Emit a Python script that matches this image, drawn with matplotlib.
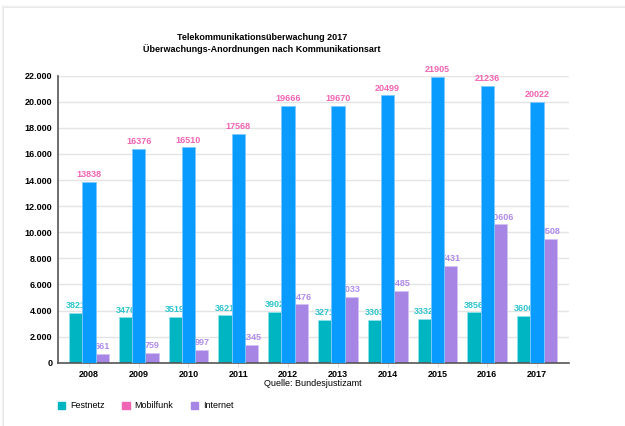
import matplotlib.pyplot as plt
from matplotlib.patches import Rectangle, Patch
import numpy as np

plt.rcParams['font.family'] = ['Liberation Sans', 'DejaVu Sans']

# data
jahre = ['2008', '2009', '2010', '2011', '2012', '2013', '2014', '2015', '2016', '2017']
festnetz = [3821, 3470, 3519, 3621, 3902, 3271, 3303, 3332, 3856, 3606]
mobilfunk = [13838, 16376, 16510, 17568, 19666, 19670, 20499, 21905, 21236, 20022]
internet = [661, 759, 997, 1345, 4476, 5033, 5485, 7431, 10606, 9508]

C_FEST = '#00B5C2'
C_MOBIL = '#0A9BFF'
C_NET = '#A785E4'
C_PINK = '#F065B4'
L_FEST = '#2EC4CE'
L_NET = '#B08BEA'

fig = plt.figure(figsize=(6.25, 4.26), dpi=100)
fig.patch.set_facecolor('white')

# card with a soft shadow on top/left
for i, a in enumerate([0.05, 0.04, 0.03, 0.02]):
    fig.patches.append(Rectangle(((4 - i) / 625, 0), 1, (418 + i) / 426,
                                 transform=fig.transFigure, facecolor='#000000',
                                 alpha=a, edgecolor='none', zorder=-3))
fig.patches.append(Rectangle((4 / 625, 0), 1, 418 / 426, transform=fig.transFigure,
                             facecolor='white', edgecolor='none', zorder=-2))

ax = fig.add_axes([58 / 625, 63.3 / 426, 511 / 625, 287 / 426])
ax.set_facecolor('none')
ax.set_zorder(2)

x = np.arange(len(jahre))
w = 0.267

b1 = ax.bar(x - w, festnetz, w, color=C_FEST, edgecolor='#8fe3ea', linewidth=0.6, zorder=2)
b3 = ax.bar(x + w, internet, w, color=C_NET, edgecolor='#d3c2f3', linewidth=0.6, zorder=2)
b2 = ax.bar(x, mobilfunk, w, color=C_MOBIL, edgecolor='#7cc8ff', linewidth=0.6, zorder=4)

def labels(bars, vals, col, z):
    for r, v in zip(bars, vals):
        ax.annotate(str(v), (r.get_x() + r.get_width() / 2, v), xytext=(0, 2),
                    textcoords='offset points', ha='center', va='bottom',
                    fontsize=6.5, fontweight='bold', color=col, zorder=z)

labels(b1, festnetz, L_FEST, 3)
labels(b3, internet, L_NET, 3)
labels(b2, mobilfunk, C_PINK, 5)

ax.set_xlim(-0.62, 9.64)
ax.set_ylim(0, 22000)
yt = np.arange(0, 22001, 2000)
ax.set_yticks(yt)
ax.set_yticklabels([f'{v:,.0f}'.replace(',', '.') for v in yt], fontsize=6.5, fontweight='bold')
ax.set_xticks(x)
ax.set_xticklabels(jahre, fontsize=6.5, fontweight='bold')
ax.tick_params(axis='y', length=0, pad=4)
ax.tick_params(axis='x', length=3, color='#dddddd', pad=2)
ax.grid(axis='y', color='#e4e4e4', linewidth=1, zorder=0)
ax.set_axisbelow(True)
for s in ['top', 'right']:
    ax.spines[s].set_visible(False)
ax.spines['left'].set_color('#555555')
ax.spines['bottom'].set_color('#555555')
ax.spines['left'].set_linewidth(1.2)
ax.spines['bottom'].set_linewidth(1.2)

fig.text(262 / 625, 1 - 37 / 426, 'Telekommunikationsüberwachung 2017', ha='center',
         va='center', fontsize=6.5, fontweight='bold')
fig.text(262 / 625, 1 - 49 / 426, 'Überwachungs-Anordnungen nach Kommunikationsart',
         ha='center', va='center', fontsize=6.5, fontweight='bold')
fig.text(313 / 625, 1 - 384 / 426, 'Quelle: Bundesjustizamt', ha='center', va='center',
         fontsize=6.5)

handles = [Patch(color=C_FEST), Patch(color=C_PINK), Patch(color=C_NET)]
fig.legend(handles, ['Festnetz', 'Mobilfunk', 'Internet'], loc='center left',
           bbox_to_anchor=(50 / 625, 1 - 406 / 426), ncol=3, frameon=False,
           handlelength=0.8, handleheight=0.8, handletextpad=0.5,
           columnspacing=2.0, prop={'size': 6.5})

fig.savefig('out.png', dpi=100)
